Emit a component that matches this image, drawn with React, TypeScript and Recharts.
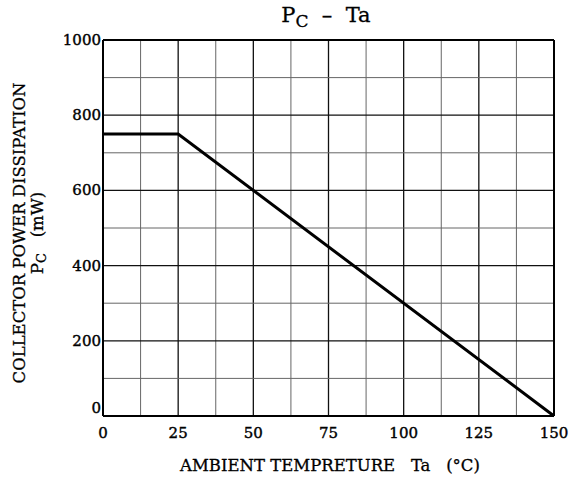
import React from 'react';
import { LineChart, Line, XAxis, YAxis, ReferenceLine } from 'recharts';

const temps = [0, 25, 150];
const power = [750, 750, 0];
const xTicks = [0, 25, 50, 75, 100, 125, 150];
const yTicks = [0, 200, 400, 600, 800, 1000];
const xMinor = [12.5, 37.5, 62.5, 87.5, 112.5, 137.5];
const xMajor = [25, 50, 75, 100, 125];
const yMinor = [100, 300, 500, 700, 900];
const yMajor = [200, 400, 600, 800];

const data = temps.map((t, i) => ({ ta: t, pc: power[i] }));

const FONT = '"DejaVu Serif", "Liberation Serif", serif';

const YTick = (props: any) => {
  const { x, y, payload } = props;
  const dy = payload.value === 0 ? -3 : 5;
  return (
    <text
      x={x + 6}
      y={y + dy}
      textAnchor="end"
      fontFamily={FONT}
      fontSize={15}
      fill="#000"
      stroke="#000"
      strokeWidth={0.4}
    >
      {payload.value}
    </text>
  );
};

const XTick = (props: any) => {
  const { x, y, payload } = props;
  return (
    <text
      x={x}
      y={y + 14}
      textAnchor="middle"
      fontFamily={FONT}
      fontSize={15}
      fill="#000"
      stroke="#000"
      strokeWidth={0.4}
    >
      {payload.value}
    </text>
  );
};

export default function App() {
  return (
    <div style={{ position: 'absolute', left: 0, top: 0, width: 575, height: 479, background: '#fff' }}>
      <div
        style={{
          position: 'absolute',
          left: 226,
          top: 3,
          width: 200,
          textAlign: 'center',
          fontFamily: FONT,
          fontSize: 21,
          color: '#000',
          WebkitTextStroke: '0.3px #000',
        }}
      >
        P<span style={{ fontSize: 17, position: 'relative', top: 5 }}>C</span> &nbsp;–&nbsp; Ta
      </div>
      <div
        style={{
          position: 'absolute',
          left: 29,
          top: 233,
          width: 0,
          height: 0,
        }}
      >
        <div
          style={{
            position: 'absolute',
            transform: 'translate(-50%, -50%) rotate(-90deg)',
            whiteSpace: 'pre',
            textAlign: 'center',
            fontFamily: FONT,
            fontSize: 16.5,
            lineHeight: '18px',
            color: '#000',
            WebkitTextStroke: '0.3px #000',
          }}
        >
          COLLECTOR POWER DISSIPATION
          <br />
          P<span style={{ fontSize: 13, position: 'relative', top: 3 }}>C</span>{'   (mW)'}
        </div>
      </div>
      <div
        style={{
          position: 'absolute',
          left: 130,
          top: 456,
          width: 400,
          textAlign: 'center',
          fontFamily: FONT,
          fontSize: 16.5,
          color: '#000',
          whiteSpace: 'pre',
          WebkitTextStroke: '0.3px #000',
        }}
      >
        {'AMBIENT TEMPRETURE   Ta   (°C)'}
      </div>
      <LineChart
        width={575}
        height={479}
        data={data}
        margin={{ top: 40, right: 21, bottom: 33, left: 43 }}
        style={{ position: 'absolute', left: 0, top: 0 }}
      >
        <XAxis
          dataKey="ta"
          type="number"
          domain={[0, 150]}
          ticks={xTicks}
          height={30}
          tickLine={false}
          axisLine={{ stroke: '#000', strokeWidth: 2 }}
          tick={<XTick />}
          interval={0}
        />
        <YAxis
          dataKey="pc"
          type="number"
          domain={[0, 1000]}
          ticks={yTicks}
          width={60}
          tickLine={false}
          axisLine={{ stroke: '#000', strokeWidth: 2 }}
          tick={<YTick />}
          interval={0}
        />
        {xMinor.map((v) => (
          <ReferenceLine key={'xm' + v} x={v} stroke="#666" strokeWidth={1} />
        ))}
        {xMajor.map((v) => (
          <ReferenceLine key={'xM' + v} x={v} stroke="#111" strokeWidth={1.3} />
        ))}
        {yMinor.map((v) => (
          <ReferenceLine key={'ym' + v} y={v} stroke="#666" strokeWidth={1} />
        ))}
        {yMajor.map((v) => (
          <ReferenceLine key={'yM' + v} y={v} stroke="#111" strokeWidth={1.3} />
        ))}
        <ReferenceLine y={1000} stroke="#000" strokeWidth={2} />
        <ReferenceLine x={150} stroke="#000" strokeWidth={2} />
        <Line
          type="linear"
          dataKey="pc"
          stroke="#000"
          strokeWidth={3}
          dot={false}
          isAnimationActive={false}
        />
      </LineChart>
    </div>
  );
}
